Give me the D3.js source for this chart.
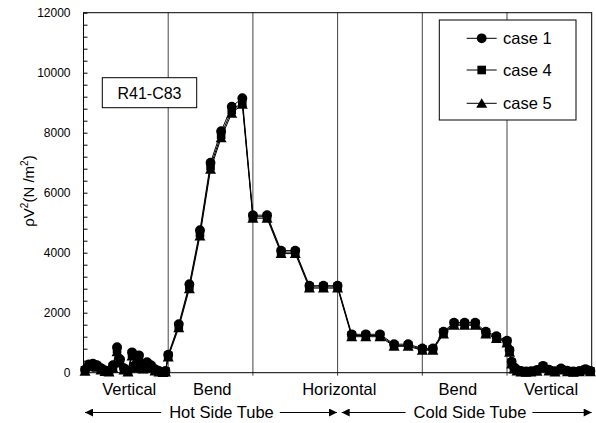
<!DOCTYPE html>
<meta charset="utf-8">
<style>
    body {
        margin: 0;
        background-color: #fff;
    }

    svg {
        display: block;
        font-family: "Liberation Sans", Arial, sans-serif;
    }
</style>
<script src="https://d3js.org/d3.v7.min.js"></script>
<svg width="596" height="423"></svg>
<script>
    // posicao ao longo do tubo (0-1 vertical quente, 1-2 curva, 2-4 horizontal, 4-5 curva fria, 5-6 vertical fria)
    var position = [
        0.018, 0.065, 0.112, 0.159, 0.207, 0.254, 0.301, 0.348, 0.396, 0.431, 0.478,
        0.525, 0.573, 0.608, 0.655, 0.702, 0.750, 0.797, 0.844, 0.891, 0.939, 0.968,
        1.0, 1.125, 1.25, 1.375, 1.5, 1.625, 1.75, 1.875,
        2.0, 2.167, 2.333, 2.5, 2.667, 2.833, 3.0, 3.167, 3.333, 3.5, 3.667, 3.833,
        4.0, 4.125, 4.25, 4.375, 4.5, 4.625, 4.75, 4.875,
        5.0, 5.03, 5.055, 5.083, 5.118, 5.165, 5.224, 5.283, 5.354, 5.425, 5.496,
        5.567, 5.638, 5.713, 5.784, 5.855, 5.926, 5.985
    ];

    var case1 = [
        100, 280, 300, 250, 150, 80, 60, 250, 850, 450, 150,
        60, 680, 250, 580, 200, 350, 250, 120, 60, 30, 60,
        600, 1620, 2950, 4750, 7000, 8050, 8870, 9150,
        5250, 5250, 4070, 4070, 2900, 2900, 2900, 1280, 1280, 1280, 950, 950,
        810, 810, 1370, 1670, 1670, 1670, 1370, 1220,
        1070, 760, 370, 180, 100, 60, 40, 50, 90, 230, 100,
        50, 140, 70, 40, 60, 120, 60
    ];

    var case4 = [
        80, 250, 260, 220, 120, 60, 40, 200, 780, 380, 120,
        40, 620, 200, 520, 160, 300, 200, 90, 40, 20, 40,
        560, 1560, 2880, 4650, 6880, 7930, 8750, 9000,
        5200, 5200, 4020, 4020, 2860, 2860, 2860, 1240, 1240, 1240, 910, 910,
        780, 780, 1330, 1620, 1620, 1620, 1330, 1180,
        1030, 720, 330, 150, 80, 40, 25, 35, 70, 190, 80,
        35, 110, 50, 25, 45, 100, 45
    ];

    var case5 = [
        50, 200, 220, 180, 90, 40, 20, 150, 700, 320, 90,
        20, 560, 160, 470, 120, 250, 160, 60, 20, 10, 20,
        520, 1500, 2800, 4560, 6780, 7830, 8650, 8950,
        5150, 5150, 3970, 3970, 2820, 2820, 2820, 1200, 1200, 1200, 880, 880,
        750, 750, 1290, 1580, 1580, 1580, 1290, 1140,
        990, 680, 290, 120, 60, 25, 15, 20, 50, 160, 60,
        20, 90, 35, 15, 30, 80, 30
    ];

    var seriesNames = ["case 1", "case 4", "case 5"];
    var regionNames = ["Vertical", "Bend", "Horizontal", "Bend", "Vertical"];
    var regionCenters = [0.54, 1.52, 3.02, 4.42, 5.52];
    var yTicks = [0, 2000, 4000, 6000, 8000, 10000, 12000];

    var svg = d3.select("svg");

    var x = d3.scaleLinear().domain([0, 6]).range([83.5, 591.7]);
    var y = d3.scaleLinear().domain([0, 12000]).range([372.7, 12.7]);

    var series = [case1, case4, case5].map(function (vals, i) {
        return {
            name: seriesNames[i],
            shape: i,
            points: vals.map(function (v, j) { return [position[j], v]; })
        };
    });

    // linhas divisorias das regioes
    svg.append("g")
        .selectAll("line")
        .data([1, 2, 3, 4, 5])
        .enter().append("line")
        .attr("x1", function (d) { return x(d); })
        .attr("x2", function (d) { return x(d); })
        .attr("y1", y(12000))
        .attr("y2", y(0) + 3)
        .attr("stroke", "#444")
        .attr("stroke-width", 1);

    // moldura
    svg.append("rect")
        .attr("x", x(0))
        .attr("y", y(12000))
        .attr("width", x(6) - x(0))
        .attr("height", y(0) - y(12000))
        .attr("fill", "none")
        .attr("stroke", "#000")
        .attr("stroke-width", 1);

    // eixo y
    var yAxis = d3.axisLeft(y)
        .tickValues(d3.range(0, 12001, 400))
        .tickSize(-4)
        .tickFormat(function (d) { return yTicks.indexOf(d) >= 0 ? d : ""; });

    var gy = svg.append("g")
        .attr("transform", "translate(" + x(0) + ",0)")
        .call(yAxis);
    gy.select(".domain").remove();
    gy.selectAll("line").attr("stroke", "#000");
    gy.selectAll("text")
        .attr("x", -13)
        .attr("font-size", 12)
        .attr("font-family", "'Liberation Sans', Arial, sans-serif")
        .attr("fill", "#000");

    var title = svg.append("text")
        .attr("transform", "translate(34,191) rotate(-90)")
        .attr("text-anchor", "middle")
        .attr("font-size", 15);
    title.append("tspan").text("\u03C1V");
    title.append("tspan").attr("font-size", 10).attr("dy", -6).text("2");
    title.append("tspan").attr("dy", 6).text("(N /m");
    title.append("tspan").attr("font-size", 10).attr("dy", -6).text("2");
    title.append("tspan").attr("dy", 6).text(")");

    // caixa R41-C83
    svg.append("rect")
        .attr("x", 102.3).attr("y", 77.7)
        .attr("width", 94.4).attr("height", 30)
        .attr("fill", "#fff").attr("stroke", "#000");
    svg.append("text")
        .attr("x", 149.5).attr("y", 98.5)
        .attr("text-anchor", "middle")
        .attr("font-size", 16)
        .text("R41-C83");

    // series
    var line = d3.line()
        .x(function (d) { return x(d[0]); })
        .y(function (d) { return y(d[1]); });

    svg.append("g")
        .selectAll("path")
        .data(series)
        .enter().append("path")
        .attr("d", function (d) { return line(d.points); })
        .attr("fill", "none")
        .attr("stroke", "#000")
        .attr("stroke-width", 1);

    function marker(sel, shape) {
        if (shape == 0)
            sel.append("circle").attr("r", 4.9);
        else if (shape == 1)
            sel.append("rect").attr("x", -4.3).attr("y", -4.3).attr("width", 8.6).attr("height", 8.6);
        else
            sel.append("path").attr("d", "M0,-5L5.5,4.5L-5.5,4.5Z");
    }

    series.forEach(function (s) {
        svg.append("g")
            .selectAll("g")
            .data(s.points)
            .enter().append("g")
            .attr("transform", function (d) { return "translate(" + x(d[0]) + "," + y(d[1]) + ")"; })
            .each(function () { marker(d3.select(this), s.shape); })
            .attr("fill", "#000");
    });

    // legenda
    var legend = svg.append("g");
    legend.append("rect")
        .attr("x", 439.3).attr("y", 20)
        .attr("width", 136.7).attr("height", 100)
        .attr("fill", "#fff").attr("stroke", "#000");

    var items = legend.selectAll(".item")
        .data(series)
        .enter().append("g")
        .attr("class", "item")
        .attr("transform", function (d, i) { return "translate(0," + [38.3, 70, 103.3][i] + ")"; });
    items.append("line")
        .attr("x1", 466.7).attr("x2", 496.7)
        .attr("stroke", "#000");
    items.append("g")
        .attr("transform", "translate(481.7,0)")
        .attr("fill", "#000")
        .each(function (d) { marker(d3.select(this), d.shape); });
    items.append("text")
        .attr("x", 503).attr("y", 6)
        .attr("font-size", 16.5)
        .text(function (d) { return d.name; });

    // rotulos das regioes
    svg.append("g")
        .selectAll("text")
        .data(regionNames)
        .enter().append("text")
        .attr("x", function (d, i) { return x(regionCenters[i]); })
        .attr("y", 395)
        .attr("text-anchor", "middle")
        .attr("font-size", 16.5)
        .text(function (d) { return d; });

    // setas lado quente / frio
    var defs = svg.append("defs");
    defs.append("marker")
        .attr("id", "seta")
        .attr("viewBox", "0 0 10 10")
        .attr("refX", 10).attr("refY", 5)
        .attr("markerWidth", 13).attr("markerHeight", 8)
        .attr("markerUnits", "userSpaceOnUse")
        .attr("orient", "auto")
        .append("path")
        .attr("d", "M0,0L10,5L0,10Z")
        .attr("fill", "#000");

    var tubes = [
        { label: "Hot Side Tube", from: 85, to: 337, tx: 221.5 },
        { label: "Cold Side Tube", from: 341.7, to: 591.7, tx: 470 }
    ];

    tubes.forEach(function (t) {
        var g = svg.append("g");
        var txt = g.append("text")
            .attr("x", t.tx).attr("y", 418)
            .attr("text-anchor", "middle")
            .attr("font-size", 16.5)
            .text(t.label);
        var w = txt.node().getComputedTextLength();
        g.append("line")
            .attr("x1", t.tx - w / 2 - 8).attr("x2", t.from)
            .attr("y1", 412.5).attr("y2", 412.5)
            .attr("stroke", "#000")
            .attr("marker-end", "url(#seta)");
        g.append("line")
            .attr("x1", t.tx + w / 2 + 6).attr("x2", t.to)
            .attr("y1", 412.5).attr("y2", 412.5)
            .attr("stroke", "#000")
            .attr("marker-end", "url(#seta)");
    });
</script>
